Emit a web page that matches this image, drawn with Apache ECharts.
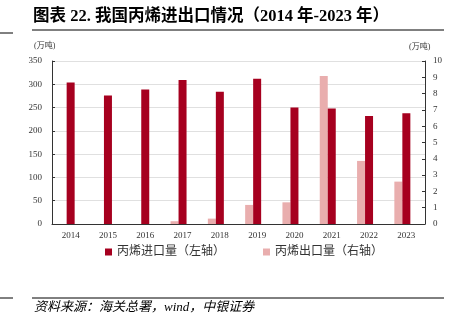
<!DOCTYPE html>
<html><head><meta charset="utf-8">
<script src="https://cdn.jsdelivr.net/npm/echarts@6/dist/echarts.min.js"></script>
<style>html,body{margin:0;padding:0;background:#fff}#c{width:464px;height:322px}</style>
</head><body><div id="c"></div>
<script>
const years = ['2014','2015','2016','2017','2018','2019','2020','2021','2022','2023'];
const importVals = [304, 276, 289, 309, 284, 312, 250, 248, 232, 238];
const exportVals = [0, 0, 0, 0.17, 0.33, 1.17, 1.33, 9.08, 3.87, 2.6];
const leftTicks = {min: 0, max: 350, interval: 50};
const rightTicks = {min: 0, max: 10, interval: 1};
const importName = '丙烯进口量（左轴）';
const exportName = '丙烯出口量（右轴）';

const serif = '"Liberation Serif","Noto Sans CJK SC",serif';
const cjk = '"Liberation Serif","Noto Sans CJK SC",sans-serif';
const chart = echarts.init(document.getElementById('c'));
chart.setOption({
  animation: false,
  backgroundColor: '#fff',
  grid: {left: 52, right: 39, top: 61, bottom: 98},
  graphic: [
    {type: 'text', left: 33, top: 8, style: {text: '图表 22. 我国丙烯进出口情况（2014 年-2023 年）', font: 'bold 16.5px ' + cjk, fill: '#000'}},
    {type: 'line', shape: {x1: 32, y1: 30, x2: 444, y2: 30}, style: {stroke: '#000', lineWidth: 1}},
    {type: 'line', shape: {x1: 0, y1: 33, x2: 13, y2: 33}, style: {stroke: '#000', lineWidth: 1}},
    {type: 'text', left: 34, top: 42, style: {text: '(万吨)', font: '8px ' + cjk, fill: '#333'}},
    {type: 'text', left: 409, top: 43, style: {text: '(万吨)', font: '8px ' + cjk, fill: '#333'}},
    {type: 'line', shape: {x1: 32, y1: 298, x2: 444, y2: 298}, style: {stroke: '#000', lineWidth: 1}},
    {type: 'line', shape: {x1: 0, y1: 298, x2: 13, y2: 298}, style: {stroke: '#000', lineWidth: 1}},
    {type: 'text', left: 34, top: 301, style: {text: '资料来源：海关总署，wind，中银证券', font: 'italic 13px ' + cjk, fill: '#000'}}
  ],
  legend: {
    data: [importName, exportName],
    top: 241, left: 100, itemWidth: 7, itemHeight: 7, itemGap: 38, icon: 'rect',
    textStyle: {fontSize: 12, color: '#333', fontFamily: cjk}
  },
  xAxis: {
    type: 'category', data: years,
    axisLine: {lineStyle: {color: '#333'}},
    axisTick: {inside: true, length: 3, lineStyle: {color: '#333'}},
    axisLabel: {fontSize: 9, color: '#333', fontFamily: serif, margin: 7}
  },
  yAxis: [
    {type: 'value', min: leftTicks.min, max: leftTicks.max, interval: leftTicks.interval,
     axisLine: {show: true, lineStyle: {color: '#333'}},
     axisTick: {show: true, inside: true, length: 3, lineStyle: {color: '#333'}},
     axisLabel: {fontSize: 9, color: '#333', fontFamily: serif, margin: 10},
     splitLine: {lineStyle: {color: '#e0e0e0'}}},
    {type: 'value', min: rightTicks.min, max: rightTicks.max, interval: rightTicks.interval, position: 'right',
     axisLine: {show: true, lineStyle: {color: '#333'}},
     axisTick: {show: true, inside: true, length: 3, lineStyle: {color: '#333'}},
     axisLabel: {fontSize: 9, color: '#333', fontFamily: serif, margin: 8},
     splitLine: {show: false}}
  ],
  series: [
    {name: exportName, type: 'bar', yAxisIndex: 1, data: exportVals, barWidth: 8, barGap: '0%', itemStyle: {color: '#E9AEAE'}},
    {name: importName, type: 'bar', yAxisIndex: 0, data: importVals, barWidth: 8, barGap: '0%', itemStyle: {color: '#A6001F'}},
    {name: 'pad', type: 'bar', yAxisIndex: 0, data: years.map(() => null), barWidth: 8, barGap: '0%'}
  ]
});
</script></body></html>
